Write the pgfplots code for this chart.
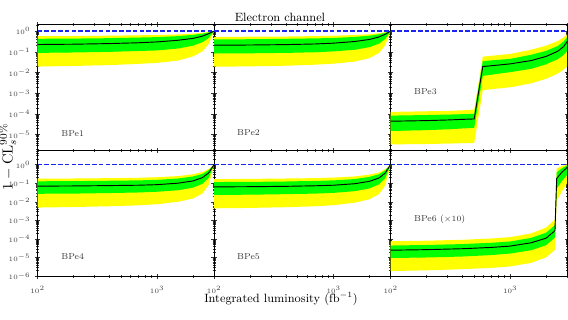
\documentclass[border=0pt]{standalone}
\usepackage{pgfplots}
\pgfplotsset{compat=1.18}
\usepackage{pgfplotstable}
\usepgfplotslibrary{fillbetween}
\definecolor{bandY}{rgb}{1,1,0}
\definecolor{bandG}{rgb}{0,1,0}
\definecolor{refblue}{rgb}{0.1,0.15,0.95}

\pgfplotstableread{
L ybot gbot med gtop ytop
100 0.0195 0.0891 0.226 0.427 0.575
200 0.0209 0.0933 0.234 0.437 0.582
400 0.0229 0.100 0.251 0.457 0.603
700 0.0263 0.110 0.275 0.490 0.631
1000 0.0295 0.117 0.302 0.513 0.646
1500 0.0380 0.145 0.363 0.575 0.692
2000 0.0603 0.200 0.447 0.661 0.759
2400 0.107 0.295 0.575 0.759 0.832
2700 0.240 0.468 0.759 0.871 0.912
3000 1 1 1 1 1
}\tabA
\pgfplotstableread{
L ybot gbot med gtop ytop
100 0.0191 0.0832 0.209 0.398 0.531
200 0.0200 0.0851 0.214 0.407 0.537
400 0.0214 0.0891 0.224 0.427 0.550
700 0.0240 0.0955 0.240 0.447 0.575
1000 0.0269 0.105 0.263 0.468 0.603
1500 0.0339 0.126 0.316 0.525 0.646
2000 0.0501 0.170 0.398 0.603 0.708
2400 0.0891 0.251 0.525 0.708 0.794
2700 0.209 0.417 0.708 0.832 0.891
3000 1 1 1 1 1
}\tabB
\pgfplotstableread{
L ybot gbot med gtop ytop
100 3.39e-6 1.51e-5 4.47e-5 8.32e-5 1.26e-4
200 3.55e-6 1.66e-5 4.79e-5 8.91e-5 1.35e-4
300 3.72e-6 1.82e-5 5.13e-5 9.33e-5 1.41e-4
400 3.89e-6 2.00e-5 5.50e-5 9.77e-5 1.51e-4
500 3.98e-6 2.14e-5 5.75e-5 1.02e-4 1.62e-4
590 1.41e-3 6.92e-3 0.0195 0.0355 0.0589
700 1.58e-3 7.94e-3 0.0214 0.0389 0.0646
1000 1.95e-3 0.0105 0.0263 0.0457 0.0794
1500 3.02e-3 0.0151 0.0380 0.0724 0.126
2000 5.01e-3 0.0251 0.0603 0.112 0.200
2500 8.91e-3 0.0447 0.107 0.191 0.331
2800 0.0141 0.0708 0.178 0.316 0.501
3000 0.0200 0.112 0.316 0.501 0.708
}\tabC
\pgfplotstableread{
L ybot gbot med gtop ytop
100 4.90e-3 0.0269 0.0692 0.126 0.174
200 5.25e-3 0.0275 0.0708 0.129 0.178
400 5.75e-3 0.0295 0.0741 0.135 0.186
700 6.46e-3 0.0316 0.0776 0.141 0.195
1000 7.41e-3 0.0347 0.0832 0.151 0.209
1500 0.0100 0.0417 0.100 0.178 0.240
2000 0.0151 0.0575 0.132 0.229 0.302
2400 0.0282 0.0933 0.200 0.316 0.398
2700 0.0794 0.191 0.355 0.501 0.575
3000 1 1 1 1 1
}\tabD
\pgfplotstableread{
L ybot gbot med gtop ytop
100 4.47e-3 0.0234 0.0631 0.115 0.166
200 4.68e-3 0.0240 0.0646 0.117 0.170
400 5.13e-3 0.0257 0.0676 0.123 0.178
700 5.75e-3 0.0275 0.0724 0.132 0.186
1000 6.61e-3 0.0302 0.0776 0.141 0.200
1500 8.91e-3 0.0372 0.0933 0.166 0.229
2000 0.0138 0.0525 0.126 0.219 0.288
2400 0.0263 0.0871 0.191 0.302 0.380
2700 0.0759 0.182 0.347 0.490 0.562
3000 1 1 1 1 1
}\tabE
\pgfplotstableread{
L ybot gbot med gtop ytop
100 1.91e-6 9.55e-6 2.51e-5 4.47e-5 7.59e-5
200 2.09e-6 1.02e-5 2.69e-5 4.79e-5 8.13e-5
400 2.40e-6 1.15e-5 3.02e-5 5.37e-5 9.12e-5
700 2.82e-6 1.38e-5 3.55e-5 6.31e-5 1.07e-4
1000 3.39e-6 1.66e-5 4.17e-5 7.41e-5 1.26e-4
1500 5.25e-6 2.51e-5 6.31e-5 1.15e-4 2.00e-4
2000 1.05e-5 4.68e-5 1.12e-4 2.19e-4 4.17e-4
2370 2.63e-5 1.20e-4 2.82e-4 5.62e-4 1.12e-3
2450 0.0112 0.0501 0.178 0.380 0.603
2700 0.0355 0.126 0.380 0.631 0.832
3000 0.100 0.282 0.708 0.891 1
}\tabF

\pgfplotsset{
  scale only axis, width=132.4pt,
  xmin=100, xmax=3000,
  xtick={100,1000},
  minor xtick={200,300,400,500,600,700,800,900,2000,3000},
  ytick={1e-6,1e-5,1e-4,1e-3,1e-2,1e-1,1},
  minor ytick={2e-6,3e-6,4e-6,5e-6,6e-6,7e-6,8e-6,9e-6,
   2e-5,3e-5,4e-5,5e-5,6e-5,7e-5,8e-5,9e-5,
   2e-4,3e-4,4e-4,5e-4,6e-4,7e-4,8e-4,9e-4,
   2e-3,3e-3,4e-3,5e-3,6e-3,7e-3,8e-3,9e-3,
   0.02,0.03,0.04,0.05,0.06,0.07,0.08,0.09,
   0.2,0.3,0.4,0.5,0.6,0.7,0.8,0.9,2,3,4,5},
  tick align=center, major tick length=4pt, minor tick length=2.2pt,
  tick style={black!80, line width=0.35pt},
  axis line style={line width=0.7pt},
  tick label style={font=\fontsize{4}{4.5}\selectfont, text=black!75},
  xticklabel style={yshift=-2pt},
}
\newcommand\bands[1]{%
 \addplot[draw=none, name path=yb, forget plot] table[x=L,y=ybot]{#1};
 \addplot[draw=none, name path=yt, forget plot] table[x=L,y=ytop]{#1};
 \addplot[draw=none, name path=gb, forget plot] table[x=L,y=gbot]{#1};
 \addplot[draw=none, name path=gt, forget plot] table[x=L,y=gtop]{#1};
 \addplot[bandY, forget plot] fill between[of=yb and yt];
 \addplot[bandG, forget plot] fill between[of=gb and gt];
 \addplot[black, line width=0.7pt, forget plot] table[x=L,y=med]{#1};
 \addplot[refblue, line width=1pt, dash pattern=on 3.5pt off 1.6pt, forget plot] coordinates {(100,1) (3000,1)};
}
\newcommand\plab[3]{\node[anchor=west, font=\fontsize{6.5}{7}\selectfont, text=black!80] at (rel axis cs:#1,#2) {#3};}

\begin{document}
\begin{tikzpicture}

\begin{loglogaxis}[anchor=south west, at={(28.2pt,126.4pt)}, height=94.5pt, ymin=1.73e-6, ymax=2.1, xticklabels={}]
\bands{\tabA}
\plab{0.108}{0.131}{BPe1}
\end{loglogaxis}
\begin{loglogaxis}[anchor=south west, at={(160.6pt,126.4pt)}, height=94.5pt, ymin=1.73e-6, ymax=2.1, xticklabels={}, yticklabels={}]
\bands{\tabB}
\plab{0.104}{0.139}{BPe2}
\end{loglogaxis}
\begin{loglogaxis}[anchor=south west, at={(293.0pt,126.4pt)}, height=94.5pt, ymin=1.73e-6, ymax=2.1, xticklabels={}, yticklabels={}]
\bands{\tabC}
\plab{0.106}{0.464}{BPe3}
\end{loglogaxis}
\begin{loglogaxis}[anchor=south west, at={(28.2pt,32.05pt)}, height=94.35pt, ymin=1e-6, ymax=5.7]
\bands{\tabD}
\plab{0.108}{0.153}{BPe4}
\end{loglogaxis}
\begin{loglogaxis}[anchor=south west, at={(160.6pt,32.05pt)}, height=94.35pt, ymin=1e-6, ymax=5.7, yticklabels={}]
\bands{\tabE}
\plab{0.104}{0.153}{BPe5}
\end{loglogaxis}
\begin{loglogaxis}[anchor=south west, at={(293.0pt,32.05pt)}, height=94.35pt, ymin=1e-6, ymax=5.7, yticklabels={}]
\bands{\tabF}
\plab{0.106}{0.455}{BPe6 ($\times10$)}
\end{loglogaxis}

\node[font=\fontsize{9}{10}\selectfont] at (210pt,226.3pt) {Electron channel};
\node[font=\fontsize{9}{10}\selectfont] at (210.75pt,14.8pt) {Integrated luminosity (fb$^{-1}$)};
\node[font=\fontsize{11}{12}\selectfont, inner sep=0pt, anchor=center] at (5.6pt,121.5pt) {\rotatebox{90}{$1-\mathrm{CL}_s^{90\%}$}};
\pgfresetboundingbox
\path[use as bounding box] (0pt,0pt) rectangle (426pt,239.25pt);
\end{tikzpicture}
\end{document}
